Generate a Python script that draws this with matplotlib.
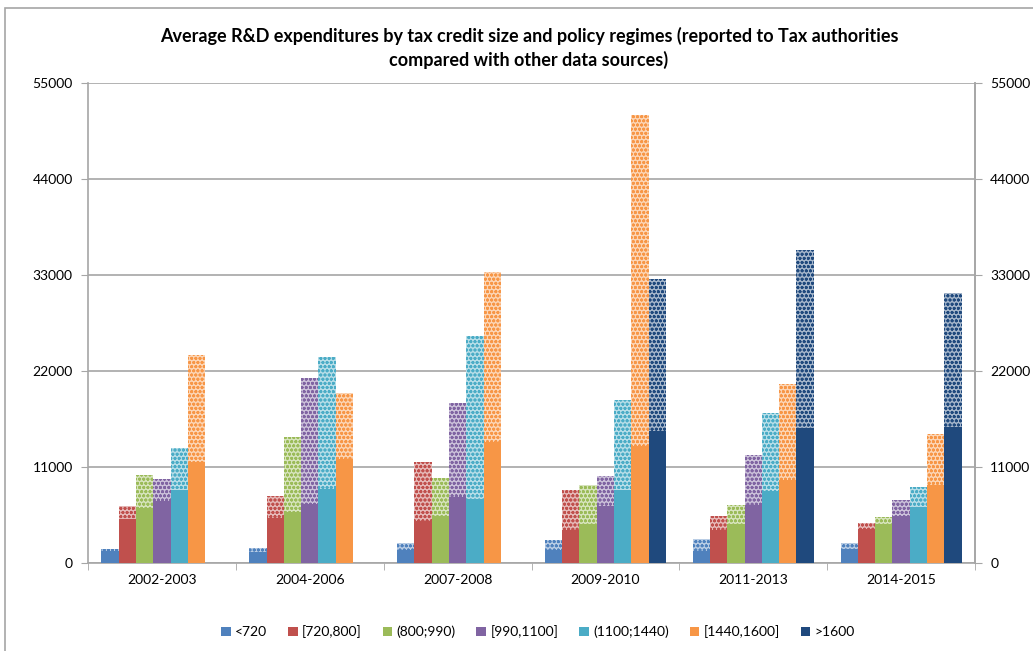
import matplotlib
matplotlib.use("Agg")
import matplotlib.pyplot as plt
import matplotlib.colors as mcolors
from matplotlib.patches import Rectangle
import numpy as np

periods = ["2002-2003", "2004-2006", "2007-2008", "2009-2010", "2011-2013", "2014-2015"]
series = ["<720", "[720,800]", "(800;990)", "[990,1100]", "(1100;1440)", "[1440,1600]", ">1600"]
colors = ["#4F81BD", "#C0504D", "#9BBB59", "#8064A2", "#4BACC6", "#F79646", "#1F497D"]

# Solid part: reported to tax authorities (per series, per period)
tax_reported = {
    "<720":        [1400, 1300, 1530, 1440, 1375, 1600],
    "[720,800]":   [5040, 5120, 4770, 3820, 3750, 3900],
    "(800;990)":   [6340, 5880, 5420, 4470, 4510, 4470],
    "[990,1100]":  [7070, 6800, 7560, 6570, 6690, 5340],
    "(1100;1440)": [8365, 8480, 7370, 8400, 8250, 6370],
    "[1440,1600]": [11610, 11920, 13860, 13360, 9560, 8970],
    ">1600":       [0, 0, 0, 15160, 15470, 15580],
}
# Dotted top: other data sources (bar top value)
other_sources = {
    "<720":        [1650, 1700, 2290, 2670, 2715, 2290],
    "[720,800]":   [6530, 7680, 11530, 8400, 5350, 4580],
    "(800;990)":   [10050, 14400, 9740, 8970, 6610, 5270],
    "[990,1100]":  [9625, 21200, 18330, 10000, 12420, 7250],
    "(1100;1440)": [13180, 23570, 26050, 18710, 17190, 8710],
    "[1440,1600]": [23830, 19510, 33300, 51370, 20470, 14820],
    ">1600":       [0, 0, 0, 32580, 35830, 30940],
}

plt.rcParams['font.family'] = ['Lato', 'DejaVu Sans']
plt.rcParams['hatch.linewidth'] = 0.9

fig = plt.figure(figsize=(10.33, 6.51), dpi=100)
ax = fig.add_axes([88/1033, 1-563/651, (975-88)/1033, (563-83)/651])

# outer chart border
fig.patches.append(Rectangle((5/1033, -0.1), 1.2, 1.1-8/651, transform=fig.transFigure,
                             fill=False, edgecolor="#A6A6A6", linewidth=1.2))

x = np.arange(len(periods))
w = 0.117
for j, s in enumerate(series):
    base = np.array(tax_reported[s], dtype=float)
    top = np.array(other_sources[s], dtype=float)
    pos = x + (j - 3) * w
    c = colors[j]
    light = mcolors.to_rgb(c)
    light = tuple(0.4 * v + 0.6 for v in light)
    ax.bar(pos, top - base, width=w, bottom=base, color=light, edgecolor=c,
           hatch="oooo", linewidth=0, zorder=3)
    ax.bar(pos, base, width=w, color=c, edgecolor=c, linewidth=0, zorder=4, label=s)

ax.set_xlim(-0.5, len(periods) - 0.5)
ax.set_ylim(0, 55000)
yt = np.arange(0, 55001, 11000)
ax.set_yticks(yt)
ax.set_yticklabels([str(v) for v in yt], fontsize=10)
ax.set_xticks(x)
ax.set_xticklabels(periods, fontsize=10)
ax.set_xticks(np.arange(-0.5, len(periods), 1.0), minor=True)
ax.tick_params(axis="x", which="major", length=0, pad=8)
ax.tick_params(axis="x", which="minor", length=5, color="#A6A6A6", direction="out")
ax.tick_params(axis="y", length=5, color="#A6A6A6", pad=6)
ax.grid(axis="y", color="#A6A6A6", linewidth=1.2, zorder=0)
ax.set_axisbelow(True)
ax.spines["top"].set_visible(False)
for sp in ["left", "right", "bottom"]:
    ax.spines[sp].set_color("#A6A6A6")
    ax.spines[sp].set_linewidth(1.2)

ax2 = ax.twinx()
ax2.set_ylim(0, 55000)
ax2.set_yticks(yt)
ax2.set_yticklabels([str(v) for v in yt], fontsize=10)
ax2.tick_params(axis="y", length=5, color="#A6A6A6", pad=6)
for sp in ["top", "left", "bottom"]:
    ax2.spines[sp].set_visible(False)
ax2.spines["right"].set_color("#A6A6A6")
ax2.spines["right"].set_linewidth(1.2)

fig.text(529/1033, 1-36/651, "Average R&D expenditures by tax credit size and policy regimes (reported to Tax authorities",
         ha="center", va="center", fontsize=13, fontweight="bold")
fig.text(529/1033, 1-60/651, "compared with other data sources)",
         ha="center", va="center", fontsize=13, fontweight="bold")

handles, labels = ax.get_legend_handles_labels()
fig.legend(handles, labels, loc="center", bbox_to_anchor=(538/1033, 1-632/651), ncol=7,
           frameon=False, fontsize=10, handlelength=0.7, handleheight=0.7,
           handletextpad=0.3, columnspacing=1.5)

fig.savefig("out.png", dpi=100)
